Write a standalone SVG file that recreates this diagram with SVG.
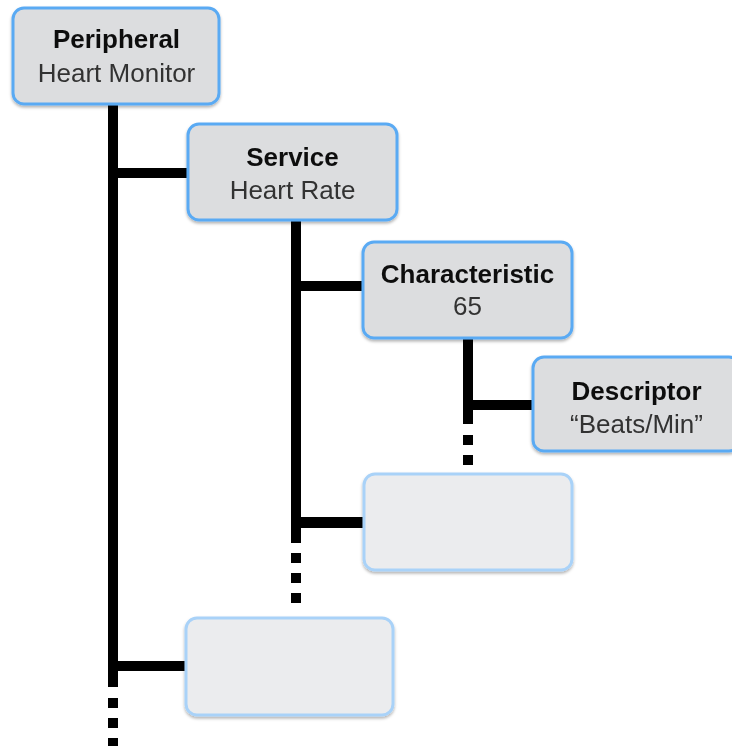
<svg xmlns="http://www.w3.org/2000/svg" width="732" height="746" viewBox="0 0 732 746">
  <defs>
    <style>
      .box { fill: #dcdddf; stroke: #5aaaf3; stroke-width: 3; }
      .empty { fill: #ebecee; stroke: #a9d2f8; stroke-width: 3; }
      .title { font-family: "Liberation Sans", Arial, sans-serif; font-size: 26px; font-weight: bold; fill: #111; text-anchor: middle; }
      .value { font-family: "Liberation Sans", Arial, sans-serif; font-size: 26px; fill: #333; text-anchor: middle; }
      .wire { fill: #000; }
    </style>
    <filter id="shadow" x="-10%" y="-10%" width="120%" height="130%">
      <feDropShadow dx="0" dy="2" stdDeviation="1.5" flood-color="#000" flood-opacity="0.3"/>
    </filter>
  </defs>

  <rect width="732" height="746" fill="#fff"/>

  <!-- tree connectors: vertical trunks, horizontal branches and trailing dots -->
  <g id="connectors" class="wire">
    <!-- peripheral trunk -->
    <rect x="108" y="104" width="10" height="583"/>
    <rect x="118" y="168" width="70" height="10"/>
    <rect x="118" y="661" width="68" height="10"/>
    <rect x="108" y="698" width="10" height="10"/>
    <rect x="108" y="718" width="10" height="10"/>
    <rect x="108" y="738" width="10" height="10"/>
    <!-- service trunk -->
    <rect x="291" y="220" width="10" height="323"/>
    <rect x="301" y="281" width="62" height="10"/>
    <rect x="301" y="517" width="63" height="11"/>
    <rect x="291" y="553" width="10" height="10"/>
    <rect x="291" y="573" width="10" height="10"/>
    <rect x="291" y="593" width="10" height="10"/>
    <!-- characteristic trunk -->
    <rect x="463" y="338" width="10" height="86"/>
    <rect x="473" y="400" width="60" height="10"/>
    <rect x="463" y="435" width="10" height="10"/>
    <rect x="463" y="455" width="10" height="10"/>
  </g>

  <g id="peripheral" filter="url(#shadow)">
    <rect class="box" x="13" y="8" width="206" height="96" rx="11"/>
    <text class="title" x="116.5" y="48">Peripheral</text>
    <text class="value" x="116.5" y="82">Heart Monitor</text>
  </g>

  <g id="service" filter="url(#shadow)">
    <rect class="box" x="188" y="124" width="209" height="96" rx="11"/>
    <text class="title" x="292.5" y="166">Service</text>
    <text class="value" x="292.5" y="199">Heart Rate</text>
  </g>

  <g id="characteristic" filter="url(#shadow)">
    <rect class="box" x="363" y="242" width="209" height="96" rx="11"/>
    <text class="title" x="467.5" y="283">Characteristic</text>
    <text class="value" x="467.5" y="315">65</text>
  </g>

  <g id="descriptor" filter="url(#shadow)">
    <rect class="box" x="533" y="357" width="207" height="94" rx="11"/>
    <text class="title" x="636.5" y="400">Descriptor</text>
    <text class="value" x="636.5" y="433">“Beats/Min”</text>
  </g>

  <g id="characteristic-2" filter="url(#shadow)">
    <rect class="empty" x="364" y="474" width="208" height="96" rx="11"/>
  </g>

  <g id="service-2" filter="url(#shadow)">
    <rect class="empty" x="186" y="618" width="207" height="97" rx="11"/>
  </g>
</svg>
